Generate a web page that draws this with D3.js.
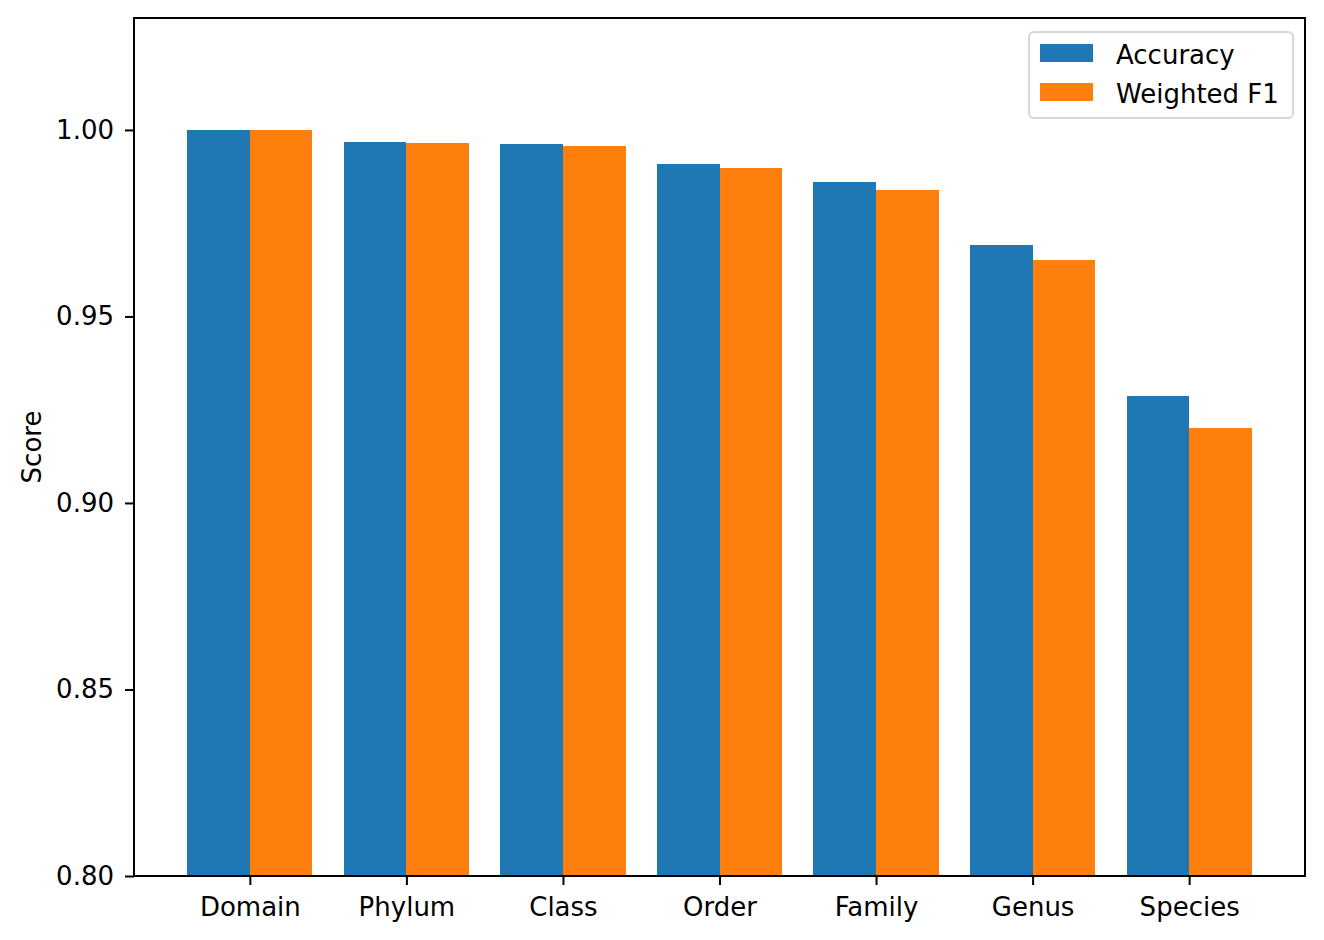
<!DOCTYPE html>
<html>
<head>
<meta charset="utf-8">
<script src="https://cdn.jsdelivr.net/npm/d3@7"></script>
<style>
  body { margin: 0; background: #fff; }
  text { font-family: "DejaVu Sans", sans-serif; }
</style>
</head>
<body>
<div id="chart"></div>
<script>
// --- Données ---
const categories = ["Domain", "Phylum", "Class", "Order", "Family", "Genus", "Species"];
const accuracy = [1.0, 0.9968, 0.9962, 0.9909, 0.9861, 0.9692, 0.9287];
const weightedF1 = [1.0, 0.9965, 0.9957, 0.9898, 0.9839, 0.9651, 0.9201];
const yTicks = [0.8, 0.85, 0.9, 0.95, 1.0];
const seriesNames = ["Accuracy", "Weighted F1"];
const colors = ["#1f77b4", "#ff7f0e"];

// --- Dimensions ---
const width = 1324;
const height = 940;
const margin = { top: 18, right: 19, bottom: 64, left: 134 };
const fontSize = 26;

const svg = d3
  .select("#chart")
  .append("svg")
  .attr("width", width)
  .attr("height", height);

const x = d3
  .scaleLinear()
  .domain([-0.74, categories.length - 1 + 0.74])
  .range([margin.left, width - margin.right]);

const y = d3
  .scaleLinear()
  .domain([0.8, 1.03])
  .range([height - margin.bottom, margin.top]);

const barW = 0.4;
const series = [accuracy, weightedF1];

// --- Barres ---
series.forEach((vals, s) => {
  svg
    .append("g")
    .attr("shape-rendering", "crispEdges")
    .selectAll("rect")
    .data(vals)
    .join("rect")
    .attr("x", (d, i) => x(i + (s === 0 ? -barW : 0)))
    .attr("width", x(barW) - x(0))
    .attr("y", (d) => y(d))
    .attr("height", (d) => y(0.8) - y(d))
    .attr("fill", colors[s]);
});

// --- Axes ---
const xAxis = svg
  .append("g")
  .attr("transform", `translate(0,${height - margin.bottom})`)
  .call(
    d3
      .axisBottom(x)
      .tickValues(d3.range(categories.length))
      .tickFormat((i) => categories[i])
      .tickSize(9)
      .tickPadding(13)
  );

const yAxis = svg
  .append("g")
  .attr("transform", `translate(${margin.left},0)`)
  .call(d3.axisLeft(y).tickValues(yTicks).tickFormat(d3.format(".2f")).tickSize(9).tickPadding(11));

[xAxis, yAxis].forEach((g) => {
  g.select(".domain").remove();
  g.selectAll(".tick line").attr("stroke", "#000").attr("stroke-width", 2);
  g.selectAll(".tick text").attr("fill", "#000").style("font-size", fontSize + "px");
});

// --- Cadre ---
svg
  .append("rect")
  .attr("x", margin.left)
  .attr("y", margin.top)
  .attr("width", width - margin.left - margin.right)
  .attr("height", height - margin.top - margin.bottom)
  .attr("fill", "none")
  .attr("stroke", "#000")
  .attr("stroke-width", 2);

// --- Titre axe Y ---
svg
  .append("text")
  .attr("transform", `translate(41,${(margin.top + height - margin.bottom) / 2}) rotate(-90)`)
  .attr("text-anchor", "middle")
  .style("font-size", fontSize + "px")
  .text("Score");

// --- Légende ---
const legend = svg.append("g").attr("transform", "translate(1029,32)");
legend
  .append("rect")
  .attr("width", 264)
  .attr("height", 86)
  .attr("rx", 5)
  .attr("fill", "#fff")
  .attr("fill-opacity", 0.8)
  .attr("stroke", "#d6d6d6")
  .attr("stroke-width", 2);

seriesNames.forEach((name, i) => {
  const row = legend.append("g").attr("transform", `translate(0,${12 + i * 39})`);
  row.append("rect").attr("x", 11).attr("width", 53).attr("height", 18).attr("fill", colors[i]);
  row
    .append("text")
    .attr("x", 87)
    .attr("y", 20)
    .style("font-size", fontSize + "px")
    .text(name);
});
</script>
</body>
</html>
